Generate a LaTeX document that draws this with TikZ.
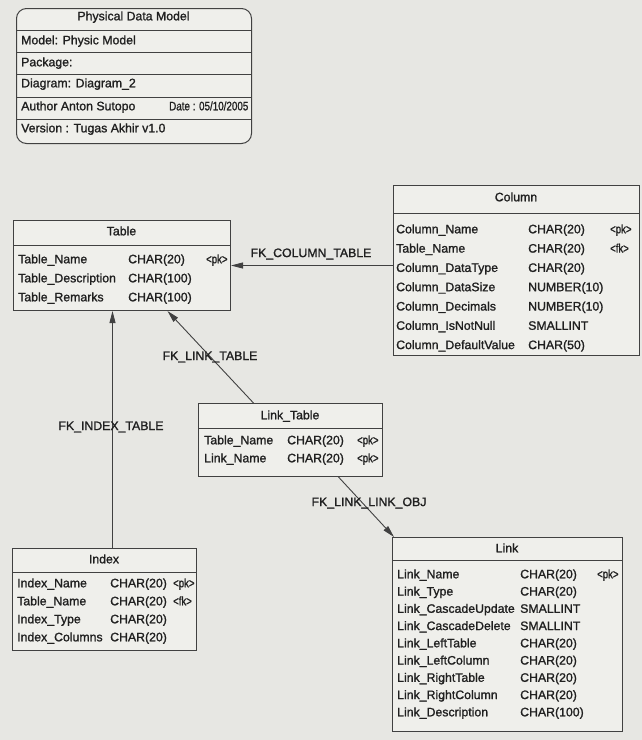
\documentclass[tikz,border=0pt]{standalone}
\usepackage{fontspec}
\setmainfont{Liberation Sans}[BoldFont=Liberation Sans, BoldFeatures={FakeBold=1.3}]
\usetikzlibrary{arrows.meta}
\definecolor{bg}{RGB}{231,231,227}
\definecolor{boxfill}{RGB}{239,239,235}
\definecolor{ink}{RGB}{32,32,32}
\definecolor{edge}{RGB}{65,65,65}
\newcommand\keytxt[1]{\scalebox{0.78}[1]{#1}}
\begin{document}
\begin{tikzpicture}[x=1pt,y=-1pt, font=\fontsize{12.3}{14}\selectfont\bfseries,
  tbox/.style={draw=edge, fill=boxfill, line width=1pt, inner sep=0pt, anchor=north west},
  txt/.style={anchor=base west, inner sep=0pt, text=ink},
  hdr/.style={anchor=base, inner sep=0pt, text=ink},
  sep/.style={draw=edge, line width=0.9pt},
  fk/.style={draw=edge, line width=0.9pt, -{Triangle[length=12pt,width=6pt]}},
  lbl/.style={inner sep=0pt, text=ink}]
\fill[bg] (0,0) rectangle (642,740);
\useasboundingbox (0,0) rectangle (642,740);

% ---------- info box
\node[tbox, rounded corners=10pt, minimum width=235pt, minimum height=135pt] (info) at (16,8) {};
\foreach \d in {22,44,66,89,111}
  \draw[sep] ([yshift=-\d pt]info.north west) -- ([yshift=-\d pt]info.north east);
\node[hdr] (info-t) at (133.5,20.3) {Physical Data Model};
\node[txt] (info-1) at (21,44.3) {Model: Physic Model};
\node[txt] (info-2) at (21,66.3) {Package:};
\node[txt] (info-3) at (21,87.3) {Diagram: Diagram\_2};
\node[txt] (info-4) at (21,110.3) {Author Anton Sutopo};
\node[txt] (info-4b) at (169,110.3) {\scalebox{0.8}[1]{Date : 05/10/2005}};
\node[txt] (info-5) at (21,132.3) {Version : Tugas Akhir v1.0};

% ---------- Table
\node[tbox, minimum width=217pt, minimum height=90pt] (tbl) at (13,220) {};
\draw[sep] ([yshift=-25pt]tbl.north west) -- ([yshift=-25pt]tbl.north east);
\node[hdr] (tbl-h) at (121.5,235.3) {Table};
\foreach \n/\t [count=\i] in {Table\_Name/CHAR(20), Table\_Description/CHAR(100), Table\_Remarks/CHAR(100)} {
  \node[txt] (tbl-n\i) at (18,{263.3+19*(\i-1)}) {\n};
  \node[txt] (tbl-t\i) at (128,{263.3+19*(\i-1)}) {\t};
}
\node[txt] (tbl-k1) at (206,263.3) {\keytxt{<pk>}};

% ---------- Column
\node[tbox, minimum width=246pt, minimum height=170pt] (col) at (393,185) {};
\draw[sep] ([yshift=-28pt]col.north west) -- ([yshift=-28pt]col.north east);
\node[hdr] (col-h) at (516,201.3) {Column};
\foreach \n/\t [count=\i] in {Column\_Name/CHAR(20), Table\_Name/CHAR(20), Column\_DataType/CHAR(20), Column\_DataSize/NUMBER(10), Column\_Decimals/NUMBER(10), Column\_IsNotNull/SMALLINT, Column\_DefaultValue/CHAR(50)} {
  \node[txt] (col-n\i) at (396,{233.3+19.3*(\i-1)}) {\n};
  \node[txt] (col-t\i) at (528,{233.3+19.3*(\i-1)}) {\t};
}
\node[txt] (col-k1) at (610,233.3) {\keytxt{<pk>}};
\node[txt] (col-k2) at (610,252.6) {\keytxt{<fk>}};

% ---------- Link_Table
\node[tbox, minimum width=184pt, minimum height=73pt] (lt) at (198,403) {};
\draw[sep] ([yshift=-25pt]lt.north west) -- ([yshift=-25pt]lt.north east);
\node[hdr] (lt-h) at (290,419.3) {Link\_Table};
\foreach \n [count=\i] in {Table\_Name, Link\_Name} {
  \node[txt] (lt-n\i) at (204,{444.3+18*(\i-1)}) {\n};
  \node[txt] (lt-t\i) at (287,{444.3+18*(\i-1)}) {CHAR(20)};
  \node[txt] (lt-k\i) at (357,{444.3+18*(\i-1)}) {\keytxt{<pk>}};
}

% ---------- Index
\node[tbox, minimum width=184pt, minimum height=102pt] (idx) at (12,548) {};
\draw[sep] ([yshift=-24pt]idx.north west) -- ([yshift=-24pt]idx.north east);
\node[hdr] (idx-h) at (104,563.3) {Index};
\foreach \n/\t [count=\i] in {Index\_Name/CHAR(20), Table\_Name/CHAR(20), Index\_Type/CHAR(20), Index\_Columns/CHAR(20)} {
  \node[txt] (idx-n\i) at (17,{587.3+18*(\i-1)}) {\n};
  \node[txt] (idx-t\i) at (110,{587.3+18*(\i-1)}) {\t};
}
\node[txt] (idx-k1) at (173,587.3) {\keytxt{<pk>}};
\node[txt] (idx-k2) at (173,605.3) {\keytxt{<fk>}};

% ---------- Link
\node[tbox, minimum width=230pt, minimum height=194pt] (lnk) at (392,537) {};
\draw[sep] ([yshift=-23pt]lnk.north west) -- ([yshift=-23pt]lnk.north east);
\node[hdr] (lnk-h) at (507,552.3) {Link};
\foreach \n/\t [count=\i] in {Link\_Name/CHAR(20), Link\_Type/CHAR(20), Link\_CascadeUpdate/SMALLINT, Link\_CascadeDelete/SMALLINT, Link\_LeftTable/CHAR(20), Link\_LeftColumn/CHAR(20), Link\_RightTable/CHAR(20), Link\_RightColumn/CHAR(20), Link\_Description/CHAR(100)} {
  \node[txt] (lnk-n\i) at (397,{578.3+17.25*(\i-1)}) {\n};
  \node[txt] (lnk-t\i) at (520,{578.3+17.25*(\i-1)}) {\t};
}
\node[txt] (lnk-k1) at (597,578.3) {\keytxt{<pk>}};

% ---------- connectors
\draw[fk] (col.west |- tbl.east) -- (tbl.east);
\node[lbl] (l-col) at (311,254) {FK\_COLUMN\_TABLE};
\draw[fk] ([xshift=-37pt]lt.north) -- ([xshift=45.5pt]tbl.south);
\node[lbl] (l-lt) at (210,357) {FK\_LINK\_TABLE};
\draw[fk] ([xshift=8pt]idx.north) -- ([xshift=8pt]idx.north |- tbl.south);
\node[lbl] (l-idx) at (111,427) {FK\_INDEX\_TABLE};
\draw[fk] ([xshift=48pt]lt.south) -- ([xshift=2pt]lnk.north west);
\node[lbl] (l-lnk) at (369,503) {FK\_LINK\_LINK\_OBJ};
\end{tikzpicture}
\end{document}
